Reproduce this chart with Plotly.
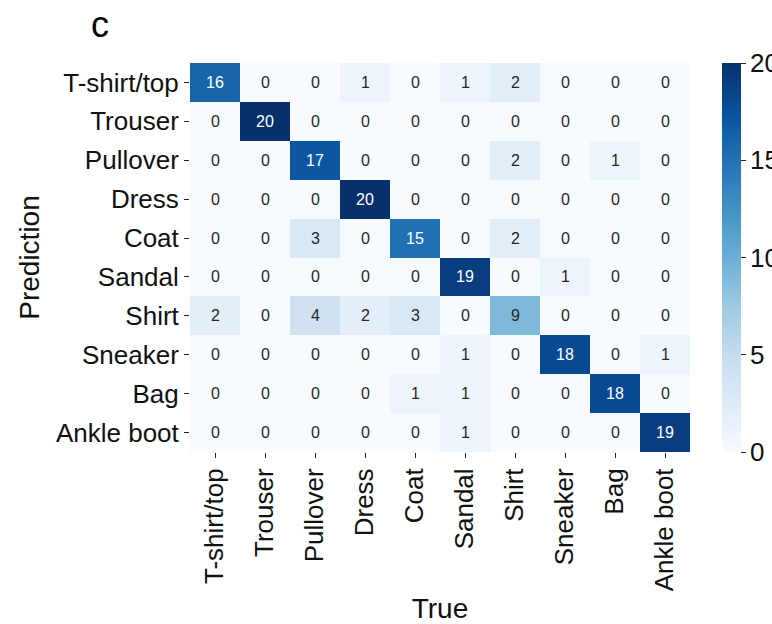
import plotly.graph_objects as go

# Fashion-MNIST class names (rows = predicted, columns = true)
classes = ["T-shirt/top", "Trouser", "Pullover", "Dress", "Coat",
           "Sandal", "Shirt", "Sneaker", "Bag", "Ankle boot"]

# Confusion-matrix counts, one list per predicted class
row_tshirt  = [16, 0, 0, 1, 0, 1, 2, 0, 0, 0]
row_trouser = [0, 20, 0, 0, 0, 0, 0, 0, 0, 0]
row_pullover = [0, 0, 17, 0, 0, 0, 2, 0, 1, 0]
row_dress   = [0, 0, 0, 20, 0, 0, 0, 0, 0, 0]
row_coat    = [0, 0, 3, 0, 15, 0, 2, 0, 0, 0]
row_sandal  = [0, 0, 0, 0, 0, 19, 0, 1, 0, 0]
row_shirt   = [2, 0, 4, 2, 3, 0, 9, 0, 0, 0]
row_sneaker = [0, 0, 0, 0, 0, 1, 0, 18, 0, 1]
row_bag     = [0, 0, 0, 0, 1, 1, 0, 0, 18, 0]
row_ankle   = [0, 0, 0, 0, 0, 1, 0, 0, 0, 19]

matrix = [row_tshirt, row_trouser, row_pullover, row_dress, row_coat,
          row_sandal, row_shirt, row_sneaker, row_bag, row_ankle]

cbar_ticks = [0, 5, 10, 15, 20]
zmin, zmax = 0, 20

# ColorBrewer "Blues" (9 classes)
blues_hex = ["#f7fbff", "#deebf7", "#c6dbef", "#9ecae1", "#6baed6",
             "#4292c6", "#2171b5", "#08519c", "#08306b"]
colorscale = [[i / (len(blues_hex) - 1), c] for i, c in enumerate(blues_hex)]

FONT = "Liberation Sans, Arial, sans-serif"

# geometry of the plot area / colour bar (pixels)
W, H = 772, 624
M_L, M_R, M_T, M_B = 190, 82, 63, 172
PLOT_W = W - M_L - M_R
CB_LEFT = 722
CB_THICK = 19
CB_TICKLEN = 5


def hex_to_rgb(h):
    h = h.lstrip("#")
    return tuple(int(h[i:i + 2], 16) for i in (0, 2, 4))


def color_at(v):
    t = (v - zmin) / (zmax - zmin)
    t = min(max(t, 0.0), 1.0)
    n = len(blues_hex) - 1
    i = min(int(t * n), n - 1)
    f = t * n - i
    a, b = hex_to_rgb(blues_hex[i]), hex_to_rgb(blues_hex[i + 1])
    return tuple(a[k] + f * (b[k] - a[k]) for k in range(3))


def luminance(rgb):
    def lin(c):
        c = c / 255
        return c / 12.92 if c <= 0.03928 else ((c + 0.055) / 1.055) ** 2.4
    r, g, b = (lin(c) for c in rgb)
    return 0.2126 * r + 0.7152 * g + 0.0722 * b


fig = go.Figure(
    go.Heatmap(
        z=matrix,
        x=classes,
        y=classes,
        zmin=zmin,
        zmax=zmax,
        colorscale=colorscale,
        xgap=0,
        ygap=0,
        hoverongaps=False,
        colorbar=dict(
            thickness=CB_THICK,
            len=1,
            lenmode="fraction",
            y=0.5,
            yanchor="middle",
            x=(CB_LEFT - M_L) / PLOT_W,
            xanchor="left",
            xpad=0,
            ypad=0,
            outlinewidth=0,
            tickvals=cbar_ticks,
            ticks="outside",
            ticklen=CB_TICKLEN,
            tickwidth=1.3,
            tickcolor="#222222",
            showticklabels=False,
        ),
    )
)

# Cell annotations, text colour chosen by background luminance
annotations = []
for r, row in enumerate(matrix):
    for c, val in enumerate(row):
        txt_color = "#262626" if luminance(color_at(val)) > 0.408 else "white"
        annotations.append(dict(
            x=classes[c], y=classes[r], text=str(val), showarrow=False,
            font=dict(family=FONT, size=16, color=txt_color),
            xref="x", yref="y",
        ))

# Colour-bar tick labels (run past the right edge of the figure)
cb_label_x = (CB_LEFT + CB_THICK + CB_TICKLEN + 2 - M_L) / PLOT_W
for v in cbar_ticks:
    annotations.append(dict(
        x=cb_label_x, y=(v - zmin) / (zmax - zmin), xref="paper", yref="paper",
        text=str(v), showarrow=False, xanchor="left", yanchor="middle",
        font=dict(family=FONT, size=26, color="#111111"),
    ))

# Panel letter
annotations.append(dict(
    x=(100 - M_L) / PLOT_W, y=1.098, xref="paper", yref="paper", text="c",
    showarrow=False, xanchor="center", yanchor="middle",
    font=dict(family=FONT, size=36, color="#000000"),
))

fig.update_layout(
    width=W,
    height=H,
    margin=dict(l=M_L, r=M_R, t=M_T, b=M_B),
    paper_bgcolor="white",
    plot_bgcolor="white",
    font=dict(family=FONT, color="#111111"),
    annotations=annotations,
    xaxis=dict(
        tickangle=-90,
        ticks="outside",
        ticklen=5,
        tickwidth=1.3,
        tickcolor="#222222",
        tickfont=dict(family=FONT, size=26, color="#111111"),
        showgrid=False,
        zeroline=False,
        showline=False,
        automargin=False,
        title=dict(text="True", font=dict(family=FONT, size=28, color="#111111"), standoff=10),
    ),
    yaxis=dict(
        autorange="reversed",
        ticks="outside",
        ticklen=5,
        tickwidth=1.3,
        tickcolor="#222222",
        tickfont=dict(family=FONT, size=26, color="#111111"),
        showgrid=False,
        zeroline=False,
        showline=False,
        automargin=False,
        title=dict(text="Prediction", font=dict(family=FONT, size=28, color="#111111"), standoff=8),
    ),
)

fig.write_html("out.html")
